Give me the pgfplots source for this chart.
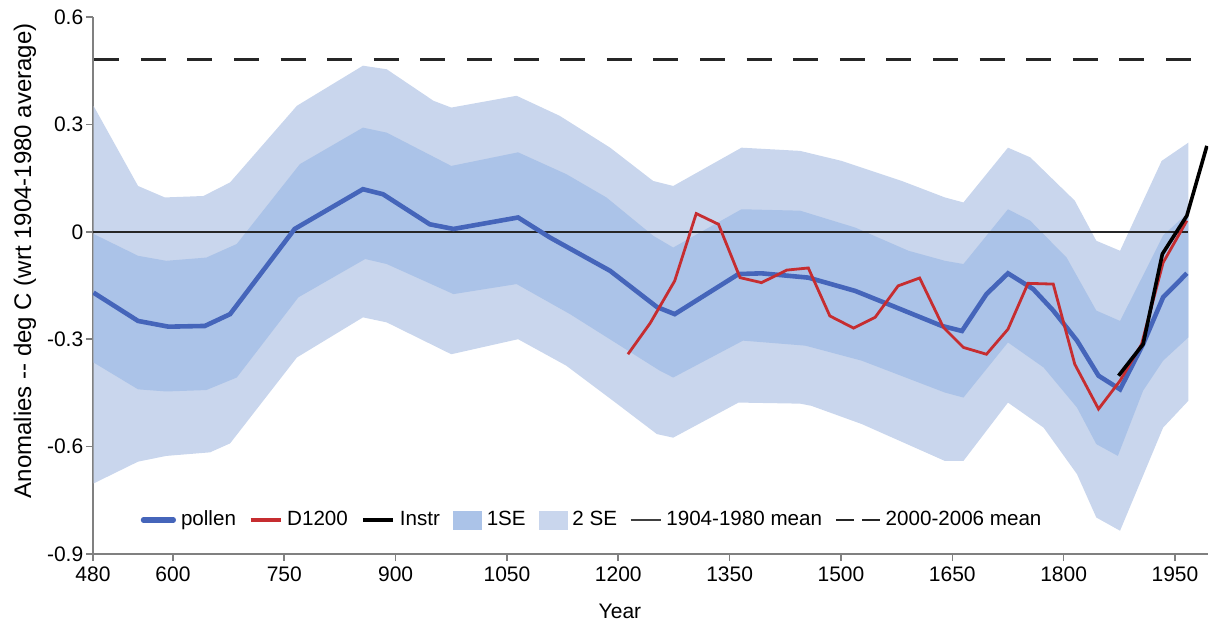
\documentclass[border=0pt]{standalone}
\usepackage{pgfplots}
\usepackage{pgfplotstable}
\pgfplotsset{compat=1.18}
\usepackage{fontspec}
\setmainfont{Liberation Sans}
\definecolor{pollenc}{HTML}{4565BA}
\definecolor{redc}{HTML}{C62D30}
\definecolor{seone}{HTML}{ABC3E8}
\definecolor{setwo}{HTML}{C9D6ED}
\definecolor{axc}{HTML}{808080}

\pgfplotstableread{
x y
493 -0.170
553 -0.249
594 -0.265
643 -0.263
677 -0.230
764 0.008
856 0.119
883 0.105
946 0.021
978 0.008
1065 0.040
1108 -0.016
1189 -0.109
1252 -0.210
1276 -0.230
1362 -0.118
1393 -0.116
1456 -0.128
1519 -0.165
1573 -0.210
1636 -0.263
1663 -0.277
1696 -0.174
1725 -0.116
1759 -0.160
1786 -0.220
1818 -0.304
1847 -0.402
1876 -0.440
1907 -0.314
1934 -0.183
1966 -0.116
}\pollen

\pgfplotstableread{
x y
1213 -0.342
1243 -0.255
1276 -0.137
1305 0.051
1335 0.021
1364 -0.128
1393 -0.142
1427 -0.107
1456 -0.101
1485 -0.235
1517 -0.269
1546 -0.239
1577 -0.151
1606 -0.129
1638 -0.267
1665 -0.323
1696 -0.342
1725 -0.272
1752 -0.144
1786 -0.146
1815 -0.370
1847 -0.495
1876 -0.416
1905 -0.314
1934 -0.086
1966 0.031
}\dtwelve

\pgfplotstableread{
x y
1874 -0.402
1907 -0.314
1933 -0.062
1966 0.045
1993 0.240
}\instr

% 2 SE band: upper edge forward, lower edge backward
\pgfplotstableread{
x y
493 0.352
553 0.128
589 0.096
641 0.100
677 0.138
767 0.352
856 0.464
888 0.454
951 0.366
975 0.347
1063 0.380
1121 0.324
1189 0.235
1247 0.142
1274 0.128
1366 0.235
1445 0.226
1501 0.198
1582 0.142
1640 0.096
1665 0.082
1725 0.235
1755 0.208
1815 0.087
1844 -0.025
1876 -0.053
1932 0.198
1968 0.249
1968 -0.472
1934 -0.547
1876 -0.835
1844 -0.798
1818 -0.677
1773 -0.547
1725 -0.477
1665 -0.640
1640 -0.640
1528 -0.537
1460 -0.486
1445 -0.480
1362 -0.477
1274 -0.575
1252 -0.565
1193 -0.472
1130 -0.374
1065 -0.300
975 -0.342
888 -0.253
856 -0.239
767 -0.351
677 -0.591
650 -0.616
591 -0.626
553 -0.642
493 -0.703
}\setwoband

% 1 SE band: upper edge forward, lower edge backward
\pgfplotstableread{
x y
493 -0.006
553 -0.067
591 -0.081
645 -0.072
686 -0.034
771 0.189
856 0.291
888 0.277
975 0.184
1065 0.222
1130 0.161
1184 0.096
1247 -0.011
1274 -0.044
1366 0.063
1445 0.059
1519 0.012
1591 -0.053
1640 -0.081
1665 -0.090
1725 0.063
1755 0.031
1804 -0.072
1844 -0.220
1876 -0.249
1905 -0.130
1934 -0.010
1968 0.054
1968 -0.295
1934 -0.360
1907 -0.444
1873 -0.626
1844 -0.593
1818 -0.491
1773 -0.379
1725 -0.309
1665 -0.463
1640 -0.449
1528 -0.360
1452 -0.318
1368 -0.304
1274 -0.407
1256 -0.388
1135 -0.230
1063 -0.146
978 -0.174
888 -0.090
859 -0.076
769 -0.183
686 -0.407
645 -0.442
591 -0.446
553 -0.440
493 -0.365
}\seoneband

\begin{document}
\begin{tikzpicture}
\useasboundingbox (-46.5pt,-34.5pt) rectangle (560.5pt,277pt);
\begin{axis}[
  at={(0pt,0pt)}, anchor=south west,
  scale only axis,
  width=557.5pt, height=268.5pt,
  xmin=492.3, xmax=1994.5,
  ymin=-0.9, ymax=0.6,
  axis lines*=left,
  axis line style={draw=axc, line width=0.9pt, -},
  tick style={draw=axc, line width=0.8pt},
  tick align=outside,
  major tick length=3.5pt,
  xtick={492.3,600,750,900,1050,1200,1350,1500,1650,1800,1950},
  xticklabels={480,600,750,900,1050,1200,1350,1500,1650,1800,1950},
  ytick={-0.9,-0.6,-0.3,0,0.3,0.6},
  yticklabels={-0.9,-0.6,-0.3,0,0.3,0.6},
  tick label style={font=\fontsize{10.5}{12}\selectfont, text=black},
  yticklabel style={inner xsep=1.2pt},
  xticklabel style={inner ysep=2.5pt},
  xlabel={Year},
  ylabel={Anomalies -{}- deg C (wrt 1904-1980 average)},
  every axis x label/.style={at={(axis description cs:0.4726,0)}, anchor=center, yshift=-28.5pt, font=\fontsize{10.5}{12}\selectfont},
  every axis y label/.style={at={(axis description cs:0,0.546)}, rotate=90, anchor=center, yshift=34pt, font=\fontsize{12}{14}\selectfont},
  legend columns=-1,
  legend style={draw=none, fill=none, at={(axis description cs:0.4490,0.0633)}, anchor=center,
    font=\fontsize{10.3}{12}\selectfont,
    /tikz/every even column/.append style={column sep=4pt},
    nodes={inner xsep=2.5pt}},
]
\addplot[fill=setwo, draw=none, forget plot] table {\setwoband} -- cycle;
\addplot[fill=seone, draw=none, forget plot] table {\seoneband} -- cycle;
\addplot[color=black!85, line width=0.7pt, forget plot] coordinates {(492.3,0) (1968,0)};
\addplot[color=black!85, line width=1.5pt, dash pattern=on 12.5pt off 10.8pt, forget plot] coordinates {(494,0.48) (1994.5,0.48)};
\addplot[color=pollenc, line width=2.3pt, forget plot] table {\pollen};
\addplot[color=redc, line width=1.4pt, forget plot] table {\dtwelve};
\addplot[color=black, line width=1.8pt, forget plot] table {\instr};

\addlegendimage{legend image code/.code={\draw[pollenc, line width=2.6pt, line cap=round] (0pt,0pt) -- (15pt,0pt);}}
\addlegendentry{pollen}
\addlegendimage{legend image code/.code={\draw[redc, line width=1.6pt] (0pt,0pt) -- (15pt,0pt);}}
\addlegendentry{D1200}
\addlegendimage{legend image code/.code={\draw[black, line width=2pt] (0pt,0pt) -- (15pt,0pt);}}
\addlegendentry{Instr}
\addlegendimage{legend image code/.code={\fill[seone] (0pt,-4.5pt) rectangle (14pt,4.5pt);}}
\addlegendentry{1SE}
\addlegendimage{legend image code/.code={\fill[setwo] (0pt,-4.5pt) rectangle (14pt,4.5pt);}}
\addlegendentry{2 SE}
\addlegendimage{legend image code/.code={\draw[black!75, line width=0.6pt] (0pt,0pt) -- (15pt,0pt);}}
\addlegendentry{1904-1980 mean}
\addlegendimage{legend image code/.code={\draw[black!85, line width=0.8pt, dash pattern=on 9pt off 4pt] (0pt,0pt) -- (22pt,0pt);}}
\addlegendentry{2000-2006 mean}
\end{axis}
\end{tikzpicture}
\end{document}
